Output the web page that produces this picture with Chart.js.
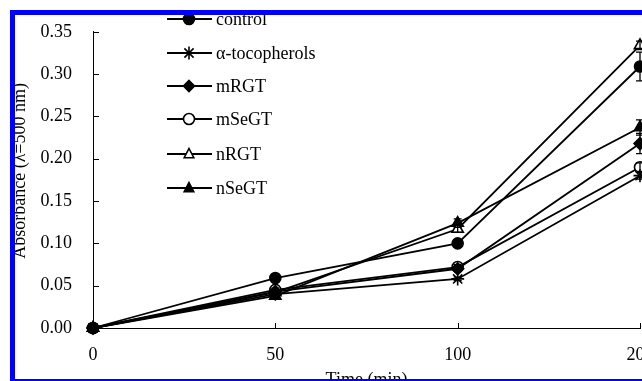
<!DOCTYPE html>
<html>
<head>
<meta charset="utf-8">
<script src="https://cdn.jsdelivr.net/npm/chart.js@4/dist/chart.umd.min.js"></script>
<style>
  html, body { margin: 0; padding: 0; background: #fff; overflow: hidden; width: 642px; height: 381px; }
  #wrap { position: absolute; left: 0; top: 0; width: 700px; height: 400px; }
  #frame { position: absolute; left: 10px; top: 10px; width: 900px; height: 374px; box-sizing: border-box;
           border: 5px solid #0000ff; pointer-events: none; z-index: 5; }
</style>
</head>
<body>
<div id="wrap"><canvas id="c" width="700" height="400"></canvas></div>
<div id="frame"></div>
<script>
// ---- data ----
const timeLabels = ['0', '50', '100', '200'];
const yTicks = [0, 0.05, 0.10, 0.15, 0.20, 0.25, 0.30, 0.35];
const seriesNames = ['control', 'α-tocopherols', 'mRGT', 'mSeGT', 'nRGT', 'nSeGT'];
const control     = [0, 0.059, 0.100, 0.309];
const alphaToc    = [0, 0.040, 0.058, 0.180];
const mRGT        = [0, 0.043, 0.070, 0.218];
const mSeGT       = [0, 0.045, 0.072, 0.190];
const nRGT        = [0, 0.042, 0.117, 0.334];
const nSeGT       = [0, 0.038, 0.124, 0.237];
const controlErr  = [0, 0.002, 0.003, 0.017];
const alphaTocErr = [0, 0.002, 0.002, 0.004];
const mRGTErr     = [0, 0.002, 0.003, 0.012];
const mSeGTErr    = [0, 0.002, 0.003, 0.005];
const nRGTErr     = [0, 0.002, 0.004, 0.005];
const nSeGTErr    = [0, 0.002, 0.005, 0.009];

const FONT = "'Liberation Serif', 'Times New Roman', serif";

const styles = [
  { pointStyle: 'circle',   fill: '#000', radius: 5.5 },
  { pointStyle: 'star',     fill: '#000', radius: 6.5 },
  { pointStyle: 'rectRot',  fill: '#000', radius: 6 },
  { pointStyle: 'circle',   fill: '#fff', radius: 5.5 },
  { pointStyle: 'triangle', fill: '#fff', radius: 6.5 },
  { pointStyle: 'triangle', fill: '#000', radius: 6.5 }
];
const values = [control, alphaToc, mRGT, mSeGT, nRGT, nSeGT];
const errs = [controlErr, alphaTocErr, mRGTErr, mSeGTErr, nRGTErr, nSeGTErr];

const datasets = seriesNames.map((name, i) => ({
  label: name,
  data: values[i],
  errors: errs[i],
  borderColor: '#000',
  borderWidth: 1.8,
  backgroundColor: styles[i].fill,
  pointStyle: styles[i].pointStyle,
  pointRadius: styles[i].radius,
  pointBackgroundColor: styles[i].fill,
  pointBorderColor: '#000',
  pointBorderWidth: 1.6,
  tension: 0,
  clip: false
}));

function drawMarker(ctx, style, x, y, r, fill) {
  ctx.save();
  ctx.lineWidth = 1.6;
  ctx.strokeStyle = '#000';
  ctx.fillStyle = fill;
  ctx.beginPath();
  if (style === 'circle') {
    ctx.arc(x, y, r, 0, Math.PI * 2);
    ctx.fill(); ctx.stroke();
  } else if (style === 'rectRot') {
    ctx.moveTo(x, y - r); ctx.lineTo(x + r, y); ctx.lineTo(x, y + r); ctx.lineTo(x - r, y); ctx.closePath();
    ctx.fill(); ctx.stroke();
  } else if (style === 'triangle') {
    ctx.moveTo(x, y - r); ctx.lineTo(x + r * 0.87, y + r * 0.5 + 1); ctx.lineTo(x - r * 0.87, y + r * 0.5 + 1); ctx.closePath();
    ctx.fill(); ctx.stroke();
  } else if (style === 'star') {
    for (let k = 0; k < 4; k++) {
      const a = k * Math.PI / 4;
      ctx.moveTo(x - r * Math.cos(a), y - r * Math.sin(a));
      ctx.lineTo(x + r * Math.cos(a), y + r * Math.sin(a));
    }
    ctx.stroke();
  }
  ctx.restore();
}

const customLegend = {
  id: 'customLegend',
  afterDraw(chart) {
    const ctx = chart.ctx;
    const x0 = 167, x1 = 212, mx = 189, tx = 216;
    const ys = [19, 53, 86, 119, 154, 188];
    ctx.save();
    ctx.font = '18px ' + FONT;
    ctx.textBaseline = 'middle';
    ctx.fillStyle = '#000';
    chart.data.datasets.forEach((ds, i) => {
      const y = ys[i];
      ctx.strokeStyle = '#000';
      ctx.lineWidth = 1.8;
      ctx.beginPath(); ctx.moveTo(x0, y); ctx.lineTo(x1, y); ctx.stroke();
      drawMarker(ctx, ds.pointStyle, mx, y, ds.pointStyle === 'star' ? 6.5 : 5.5, ds.pointBackgroundColor);
      ctx.fillText(ds.label, tx, y + 1);
    });
    ctx.restore();
  }
};

const errorBars = {
  id: 'errorBars',
  afterDatasetsDraw(chart) {
    const ctx = chart.ctx;
    const ys = chart.scales.y;
    ctx.save();
    ctx.strokeStyle = '#000';
    ctx.lineWidth = 1.3;
    chart.data.datasets.forEach((ds, i) => {
      const meta = chart.getDatasetMeta(i);
      meta.data.forEach((pt, j) => {
        const e = ds.errors[j];
        if (!e) return;
        const v = ds.data[j];
        const t = ys.getPixelForValue(v + e), b = ys.getPixelForValue(v - e);
        ctx.beginPath();
        ctx.moveTo(pt.x, t); ctx.lineTo(pt.x, b);
        ctx.moveTo(pt.x - 4, t); ctx.lineTo(pt.x + 4, t);
        ctx.moveTo(pt.x - 4, b); ctx.lineTo(pt.x + 4, b);
        ctx.stroke();
      });
    });
    ctx.restore();
  }
};

const innerTicks = {
  id: 'innerTicks',
  afterDraw(chart) {
    const ctx = chart.ctx;
    const xs = chart.scales.x, ys = chart.scales.y;
    const area = chart.chartArea;
    ctx.save();
    ctx.strokeStyle = '#000';
    ctx.lineWidth = 1;
    ctx.beginPath();
    ys.ticks.forEach((t, k) => {
      const y = Math.round(ys.getPixelForTick(k)) + 0.5;
      ctx.moveTo(area.left, y); ctx.lineTo(area.left + 6, y);
    });
    xs.ticks.forEach((t, k) => {
      const x = Math.round(xs.getPixelForTick(k)) + 0.5;
      ctx.moveTo(x, area.bottom); ctx.lineTo(x, area.bottom - 5);
    });
    ctx.stroke();
    ctx.restore();
  }
};

new Chart(document.getElementById('c'), {
  type: 'line',
  data: { labels: timeLabels, datasets: datasets },
  plugins: [errorBars, innerTicks, customLegend],
  options: {
    responsive: false,
    animation: false,
    devicePixelRatio: 1,
    layout: { padding: { left: 0, top: 20, right: 60, bottom: 0 } },
    plugins: { legend: { display: false }, tooltip: { enabled: false } },
    scales: {
      x: {
        type: 'category',
        offset: false,
        grid: { display: true, drawOnChartArea: false, drawTicks: false },
        border: { display: true, color: '#000', width: 1 },
        ticks: { color: '#000', font: { family: FONT, size: 18 }, padding: 16, maxRotation: 0, autoSkip: false },
        title: { display: true, text: 'Time (min)', color: '#000', font: { family: FONT, size: 18 }, padding: { top: 0, bottom: 9 } },
        afterFit(scale) { scale.height = 72; }
      },
      y: {
        min: 0, max: 0.35,
        afterBuildTicks(scale) { scale.ticks = yTicks.map(v => ({ value: v })); },
        grid: { display: true, drawOnChartArea: false, drawTicks: false },
        border: { display: true, color: '#000', width: 1 },
        ticks: { color: '#000', font: { family: FONT, size: 18 }, padding: 21,
                 callback: (v) => Number(v).toFixed(2) },
        title: { display: true, text: '    Absorbance (λ=500 nm)', color: '#000', font: { family: FONT, size: 18 }, padding: { top: 9, bottom: 0 } },
        afterFit(scale) { scale.width = 93; }
      }
    }
  }
});
</script>
</body>
</html>
